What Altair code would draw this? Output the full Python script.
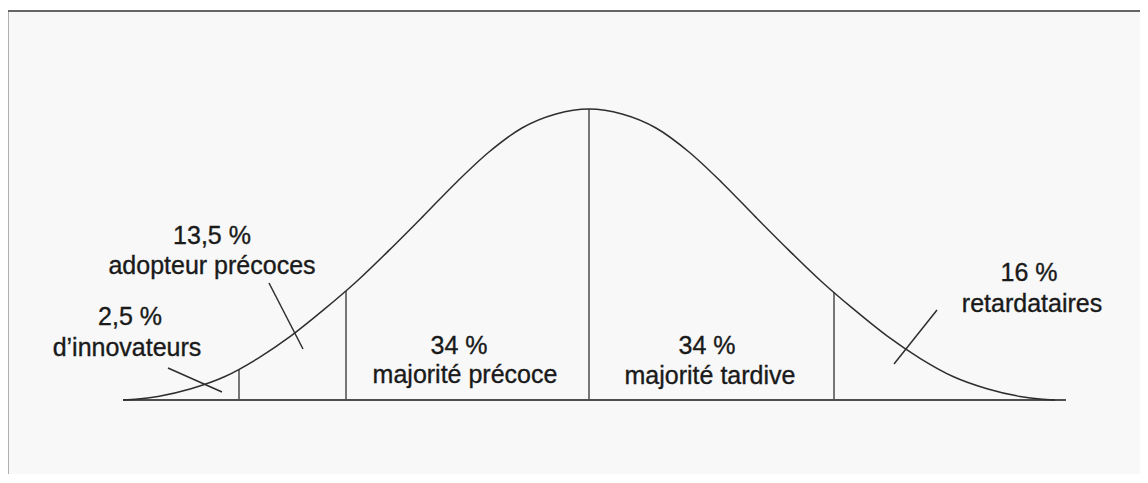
import altair as alt
import pandas as pd

# Bell curve (x position, height above baseline)
curve_x = [123, 138, 158, 191, 225, 258, 291, 325, 356, 389, 422, 456, 489, 522, 556, 589,
           622, 656, 689, 722, 756, 789, 822, 853, 887, 920, 953, 987, 1020, 1040, 1055]
curve_h = [0, 0.9, 3.6, 11.3, 23.5, 41.7, 64.1, 91.3, 118, 149.6, 182.6, 217.3, 248, 272, 286, 291,
           286, 272, 248, 217.3, 182.6, 149.6, 118, 91.3, 64.1, 41.7, 23.5, 11.3, 3.6, 0.9, 0]

# Segment boundaries (vertical lines)
split_x = [239, 346, 589, 834]
split_h = [31, 109, 291, 108]

# Baseline extent
base_x = [123]
base_x2 = [1066]

# Labels
label_text = ["13,5 %", "adopteur précoces", "2,5 %", "d\u2019innovateurs",
              "34 %", "majorité précoce", "34 %", "majorité tardive",
              "16 %", "retardataires"]
label_x = [212, 212, 130, 127, 459, 465, 707, 710, 1029, 1032]
label_h = [156, 126, 75, 44, 46, 17, 46, 16, 119, 88]

# Leader lines
lead_x = [168, 269, 937]
lead_h = [32, 117, 90]
lead_x2 = [222, 303, 894]
lead_h2 = [8, 51, 36]

W, H = 1132, 463
xs = alt.Scale(domain=[8, 8 + W], nice=False, zero=False)
ys = alt.Scale(domain=[389 - H, 389], nice=False, zero=False)

curve_df = pd.DataFrame({"x": curve_x, "h": curve_h})
split_df = pd.DataFrame({"x": split_x, "h": split_h, "h0": [0] * len(split_x)})
base_df = pd.DataFrame({"x": base_x, "x2": base_x2, "h": [0]})
label_df = pd.DataFrame({"t": label_text, "x": label_x, "h": label_h})
lead_df = pd.DataFrame({"x": lead_x, "h": lead_h, "x2": lead_x2, "h2": lead_h2})

curve = alt.Chart(curve_df).mark_line(color="#2e2e2e", strokeWidth=1.5, interpolate="monotone").encode(
    x=alt.X("x:Q", scale=xs, axis=None),
    y=alt.Y("h:Q", scale=ys, axis=None),
)

splits = alt.Chart(split_df).mark_rule(color="#4d4d4d", strokeWidth=1.5).encode(
    x=alt.X("x:Q", scale=xs, axis=None),
    y=alt.Y("h0:Q", scale=ys, axis=None),
    y2="h:Q",
)

base = alt.Chart(base_df).mark_rule(color="#4d4d4d", strokeWidth=2).encode(
    x=alt.X("x:Q", scale=xs, axis=None),
    x2="x2:Q",
    y=alt.Y("h:Q", scale=ys, axis=None),
)

leads = alt.Chart(lead_df).mark_rule(color="#2e2e2e", strokeWidth=1.5).encode(
    x=alt.X("x:Q", scale=xs, axis=None),
    x2="x2:Q",
    y=alt.Y("h:Q", scale=ys, axis=None),
    y2="h2:Q",
)

labels = alt.Chart(label_df).mark_text(
    font="Liberation Sans", fontSize=25, color="#1a1a1a", align="center", baseline="alphabetic",
    stroke="#1a1a1a", strokeWidth=0.35
).encode(
    x=alt.X("x:Q", scale=xs, axis=None),
    y=alt.Y("h:Q", scale=ys, axis=None),
    text="t:N",
)

border_top = alt.Chart(base_df).mark_rule(color="#666666", strokeWidth=2).encode(
    x=alt.value(-1), x2=alt.value(W), y=alt.value(0)
)
border_left = alt.Chart(base_df).mark_rule(color="#666666", strokeWidth=2).encode(
    x=alt.value(-0.5), y=alt.value(0), y2=alt.value(H)
)

chart = alt.layer(splits, base, curve, leads, labels, border_top, border_left).properties(
    width=W, height=H,
    autosize="none",
    padding={"left": 0, "top": 3, "right": 0, "bottom": 0},
    background="#ffffff",
).configure_view(stroke=None, fill="#f8f8f8")

chart.save("out.html", embed_options={"renderer": "svg", "actions": False})
